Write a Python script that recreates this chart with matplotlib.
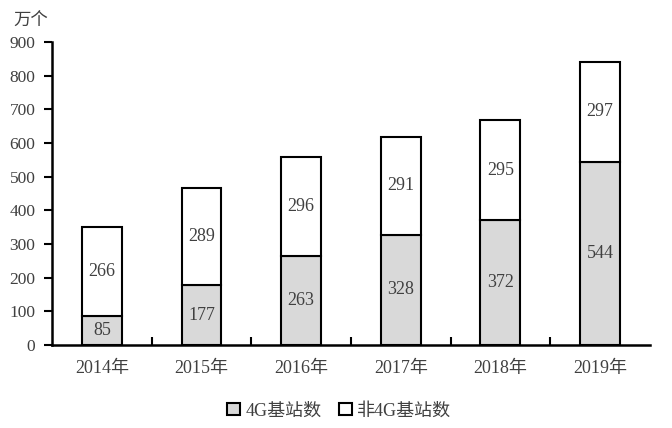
import matplotlib.pyplot as plt
from matplotlib.patches import Patch

plt.rcParams['font.family'] = ['Liberation Serif', 'Noto Sans CJK SC']

years = ["2014年", "2015年", "2016年", "2017年", "2018年", "2019年"]
bs_4g = [85, 177, 263, 328, 372, 544]
bs_non4g = [266, 289, 296, 291, 295, 297]

text_color = "#404040"

fig = plt.figure(figsize=(6.72, 4.28), dpi=100)
ax = fig.add_axes([0.0774, 0.194, 0.8896, 0.708])

x = list(range(len(years)))
b1 = ax.bar(x, bs_4g, width=0.4, color="#d9d9d9", edgecolor="black", linewidth=1.5)
b2 = ax.bar(x, bs_non4g, width=0.4, bottom=bs_4g, color="white", edgecolor="black", linewidth=1.5)

for i in x:
    ax.text(i, bs_4g[i] / 2, str(bs_4g[i]), ha="center", va="center", fontsize=13, color=text_color)
    ax.text(i, bs_4g[i] + bs_non4g[i] / 2, str(bs_non4g[i]), ha="center", va="center", fontsize=13, color=text_color)

ax.set_xlim(-0.5, len(years) - 0.5)
ax.set_ylim(0, 900)
ax.set_yticks(range(0, 901, 100))
ax.set_xticks(x)
ax.set_xticklabels(years)
# category boundary ticks pointing up
ax.set_xticks([i + 0.5 for i in range(len(years) - 1)], minor=True)
ax.tick_params(axis="x", which="major", length=0, pad=11, labelsize=13, labelcolor=text_color)
ax.tick_params(axis="x", which="minor", direction="in", length=6, width=1.5)
ax.tick_params(axis="y", direction="out", length=6, width=1.5, pad=6, labelsize=12.5, labelcolor=text_color)

for s in ["top", "right"]:
    ax.spines[s].set_visible(False)
for s in ["left", "bottom"]:
    ax.spines[s].set_linewidth(1.8)

fig.text(0.02, 0.948, "万个", fontsize=12.5, color=text_color, va="center")

handles = [Patch(facecolor="#d9d9d9", edgecolor="black", linewidth=1.5),
           Patch(facecolor="white", edgecolor="black", linewidth=1.5)]
leg = fig.legend(handles, ["4G基站数", "非4G基站数"], loc="center", bbox_to_anchor=(0.505, 0.04),
                 ncol=2, frameon=False, fontsize=13, handlelength=0.7, handleheight=0.7,
                 handletextpad=0.3, columnspacing=1.0)
for t in leg.get_texts():
    t.set_color(text_color)

fig.savefig("out.png", dpi=100)
